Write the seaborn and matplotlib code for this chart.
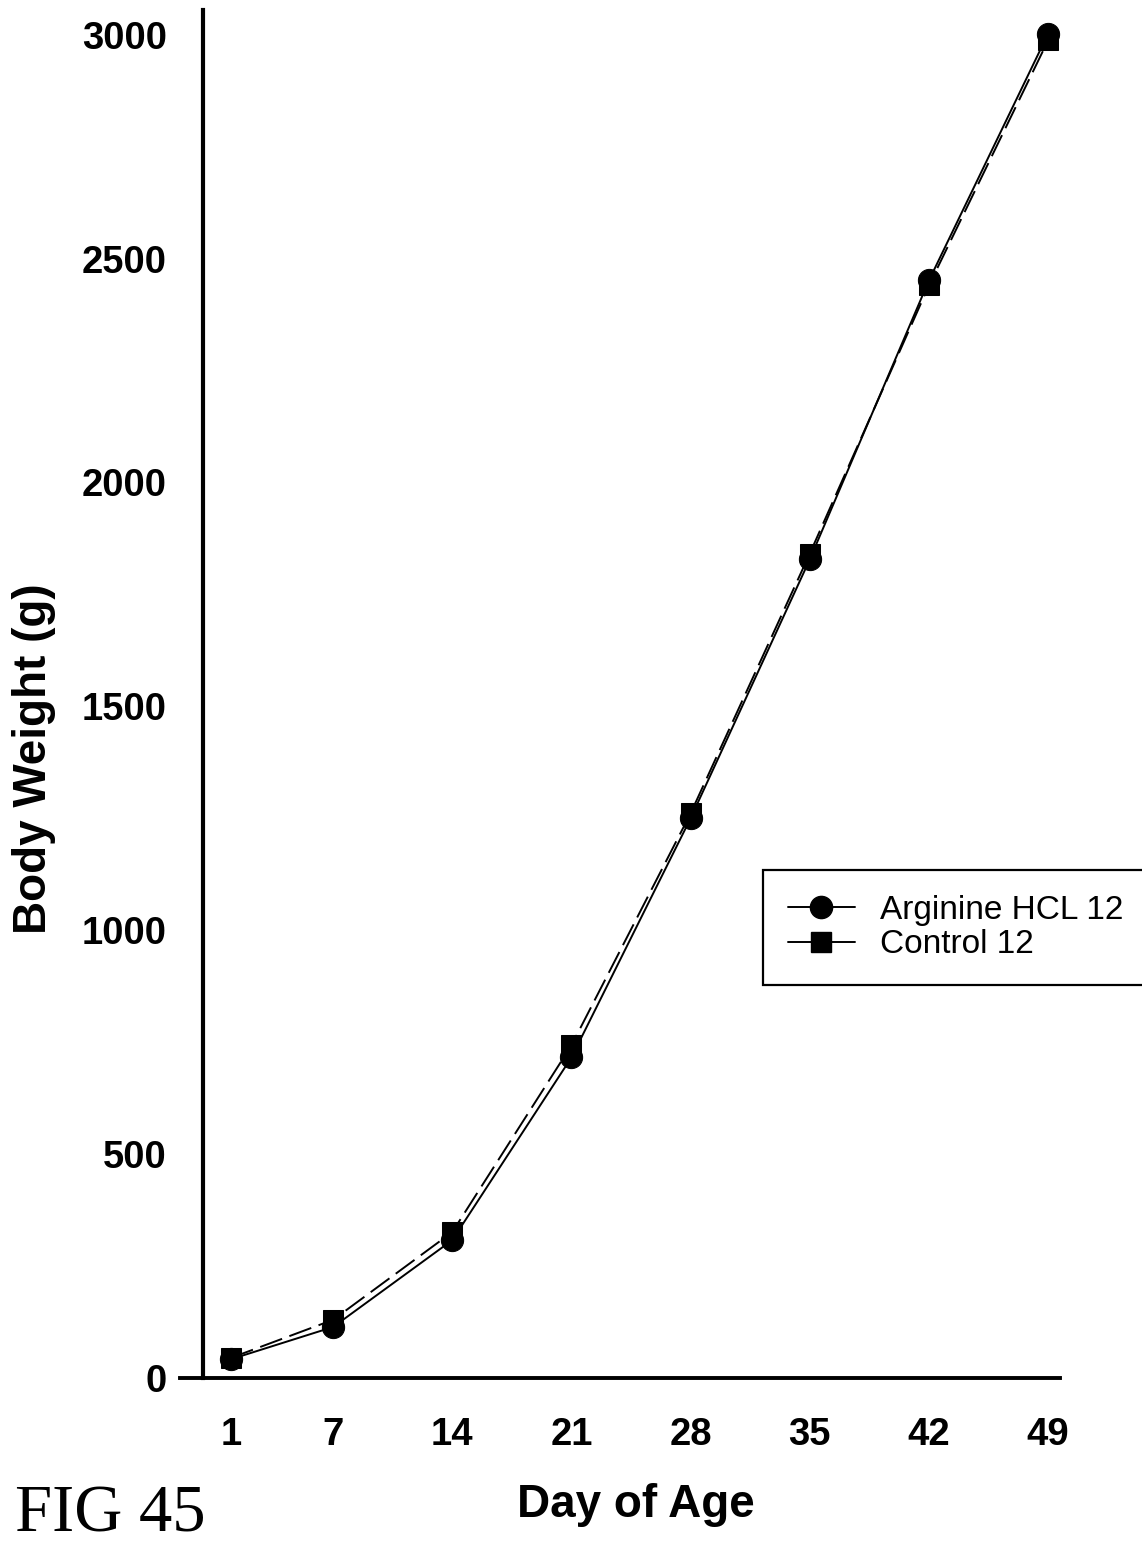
import numpy as np
import pandas as pd
import matplotlib
matplotlib.use("Agg")
import matplotlib.pyplot as plt
from matplotlib.lines import Line2D
import seaborn as sns

# ---- data ----
days = [1, 7, 14, 21, 28, 35, 42, 49]
arginine = [42, 114, 308, 716, 1250, 1828, 2451, 3002]
control = [45, 130, 326, 743, 1261, 1841, 2440, 2987]
series_names = ["Arginine HCL 12", "Control 12"]
yticks = [0, 500, 1000, 1500, 2000, 2500, 3000]

sns.set_theme(style="white")
plt.rcParams['font.family'] = ['Liberation Sans', 'DejaVu Sans']
plt.rcParams.update({"text.color": "black", "axes.labelcolor": "black",
                     "xtick.color": "black", "ytick.color": "black"})

W, H = 1142, 1546
fig = plt.figure(figsize=(W / 100, H / 100), dpi=100)
ax_left, ax_right, ax_bottom, ax_top = 180, 1060, 1378, 10
ax = fig.add_axes([ax_left / W, 1 - ax_bottom / H, (ax_right - ax_left) / W, (ax_bottom - ax_top) / H])

df_c = pd.DataFrame({"day": days, "weight": control})
df_a = pd.DataFrame({"day": days, "weight": arginine})

sns.lineplot(data=df_c, x="day", y="weight", ax=ax, color="black", lw=1.4,
             marker="s", markersize=14, markeredgecolor="black", markerfacecolor="black",
             legend=False)
ax.lines[-1].set_dashes((12, 4))
sns.lineplot(data=df_a, x="day", y="weight", ax=ax, color="black", lw=1.4,
             marker="o", markersize=16, markeredgecolor="black", markerfacecolor="black",
             legend=False)

for s in ["top", "right"]:
    ax.spines[s].set_visible(False)
ax.spines["left"].set_position(("data", -0.65))
ax.spines["left"].set_linewidth(3)
ax.spines["bottom"].set_linewidth(2.8)
ax.spines["left"].set_color("black")
ax.spines["bottom"].set_color("black")

ax.set_xlim(-2.0, 49.7)
ax.set_ylim(0, 3055)
ax.set_xticks(days)
ax.set_yticks(yticks)
ax.set_xticklabels([str(d) for d in days], fontsize=27.5, fontweight="bold", color="black")
ax.set_yticklabels([str(v) for v in yticks], fontsize=27.5, fontweight="bold", color="black")

ax.tick_params(axis="x", direction="out", length=14, width=2.5, pad=14, colors="black")
ax.tick_params(axis="y", direction="out", length=14, width=2.5, pad=12, colors="black")
ax.grid(False)

ax.set_xlabel("Day of Age", fontsize=33, fontweight="bold", color="black")
ax.xaxis.set_label_coords((636 - ax_left) / (ax_right - ax_left), -(1483 - ax_bottom) / (ax_bottom - ax_top))
ax.set_ylabel("Body Weight (g)", fontsize=33, fontweight="bold", color="black")
ax.yaxis.set_label_coords((56 - ax_left) / (ax_right - ax_left), 1 - (759 - ax_top) / (ax_bottom - ax_top))

handles = [
    Line2D([], [], color="black", lw=1.4, marker="o", markersize=16),
    Line2D([], [], color="black", lw=1.4, marker="s", markersize=14),
]
leg = fig.legend(handles, series_names, loc="upper left",
                 bbox_to_anchor=(763 / W, 1 - 983 / H, 420 / W, 113 / H), mode="expand",
                 fontsize=24, frameon=True, fancybox=False, edgecolor="black", framealpha=1,
                 handlelength=2.0, handletextpad=0.75, borderpad=0.75, labelspacing=0.1,
                 borderaxespad=0)
leg.get_frame().set_linewidth(1.6)
for t in leg.get_texts():
    t.set_color("black")

fig.text(15 / W, 0, "FIG 45", fontsize=48, family=["Liberation Serif", "DejaVu Serif"],
         ha="left", va="bottom", color="black")

fig.savefig("out.png", dpi=100, facecolor="white")
